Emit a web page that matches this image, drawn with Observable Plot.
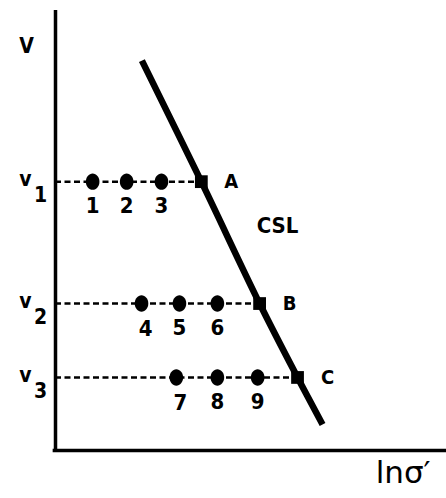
<!DOCTYPE html>
<html>
<head>
<meta charset="utf-8">
<script src="https://cdn.jsdelivr.net/npm/d3@7"></script>
<script src="https://cdn.jsdelivr.net/npm/@observablehq/plot@0.6"></script>
<style>
  body { margin: 0; background: #fff; }
  svg { display: block; }
</style>
</head>
<body>
<div id="chart"></div>
<script>
// Specific volume levels v1, v2, v3 (arbitrary units)
const levelSubs = ["1", "2", "3"];
const levelV = [6.11, 3.34, 1.66];

// Critical states on the CSL reached at each level
const criticalNames = ["A", "B", "C"];
const criticalLnS = [3.73, 5.22, 6.19];

// Specimens 1–9: starting ln σ' and the level they sit on
const specimenNums = ["1", "2", "3", "4", "5", "6", "7", "8", "9"];
const specimenLnS = [0.95, 1.82, 2.71, 2.20, 3.17, 4.14, 3.09, 4.14, 5.17];
const specimenLevel = [0, 0, 0, 1, 1, 1, 2, 2, 2];

// Critical state line (slightly curved) vertices
const cslLnS = [2.21, 3.73, 5.22, 6.19, 6.83];
const cslV = [8.86, 6.11, 3.34, 1.66, 0.59];

const levels = levelV.map((v, i) => ({v, sub: levelSubs[i], name: criticalNames[i], x: criticalLnS[i]}));
const specimens = specimenNums.map((n, i) => ({n, x: specimenLnS[i], v: levelV[specimenLevel[i]]}));
const csl = cslLnS.map((x, i) => ({x, v: cslV[i]}));

// Slightly tall filled ellipse used for the specimen markers
const ellipse = {
  draw(ctx) {
    const rx = 6.8, ry = 8.2, k = 0.5523;
    ctx.moveTo(rx, 0);
    ctx.bezierCurveTo(rx, ry * k, rx * k, ry, 0, ry);
    ctx.bezierCurveTo(-rx * k, ry, -rx, ry * k, -rx, 0);
    ctx.bezierCurveTo(-rx, -ry * k, -rx * k, -ry, 0, -ry);
    ctx.bezierCurveTo(rx * k, -ry, rx, -ry * k, rx, 0);
    ctx.closePath();
  }
};

const font = "'DejaVu Sans Condensed', 'DejaVu Sans', sans-serif";
const firstOfRow = d => d.n === "4" || d.n === "7";

const chart = Plot.plot({
  width: 446,
  height: 498,
  marginLeft: 55,
  marginRight: 0,
  marginTop: 10,
  marginBottom: 48,
  x: {domain: [0, 10], axis: null},
  y: {domain: [0, 10], axis: null},
  style: {background: "#fff", fontFamily: font},
  marks: [
    // axes
    Plot.ruleX([0], {y1: 0, y2: 10, stroke: "#000", strokeWidth: 3.5}),
    Plot.ruleY([0], {x1: -0.06, x2: 10, stroke: "#000", strokeWidth: 3.5}),
    // dashed constant-volume paths
    Plot.ruleY(levels, {y: "v", x1: 0, x2: "x", stroke: "#000", strokeWidth: 2.5, strokeDasharray: "6,3.5"}),
    // critical state line
    Plot.line(csl, {x: "x", y: "v", curve: "catmull-rom", stroke: "#000", strokeWidth: 6.5, strokeLinecap: "butt"}),
    // specimens
    Plot.dot(specimens, {x: "x", y: "v", symbol: ellipse, fill: "#000", stroke: "none"}),
    Plot.text(specimens, {filter: d => !firstOfRow(d), x: "x", y: "v", text: "n", dy: 24, fontSize: 22, fontWeight: "bold", fill: "#000"}),
    Plot.text(specimens, {filter: firstOfRow, x: "x", y: "v", text: "n", dx: 4, dy: 25, fontSize: 22, fontWeight: "bold", fill: "#000"}),
    // critical states
    Plot.dot(levels, {x: "x", y: "v", symbol: "square", r: 7.2, fill: "#000", stroke: "none"}),
    Plot.text(levels, {x: "x", y: "v", text: "name", dx: 30, fontSize: 20, fontWeight: "bold", fill: "#000"}),
    // level labels v with subscripts
    Plot.text(levels, {x: 0, y: "v", text: () => "v", dx: -30, dy: -2, fontSize: 21, fontWeight: "bold", fill: "#000"}),
    Plot.text(levels, {x: 0, y: "v", text: "sub", dx: -15, dy: 14, fontSize: 21, fontWeight: "bold", fill: "#000"}),
    // axis titles and CSL label
    Plot.text(["V"], {x: 0, y: 10, text: d => d, dx: -29, dy: 36, fontSize: 21, fontWeight: "bold", fill: "#000"}),
    Plot.text(["CSL"], {x: 5.68, y: 5.11, text: d => d, fontSize: 22, fontWeight: "bold", fill: "#000"}),
    Plot.text(["lnσ′"], {x: 8.89, y: 0, text: d => d, dy: 23, fontSize: 31, fontFamily: "'DejaVu Sans', sans-serif", fill: "#000"})
  ]
});

document.getElementById("chart").append(chart);
</script>
</body>
</html>
